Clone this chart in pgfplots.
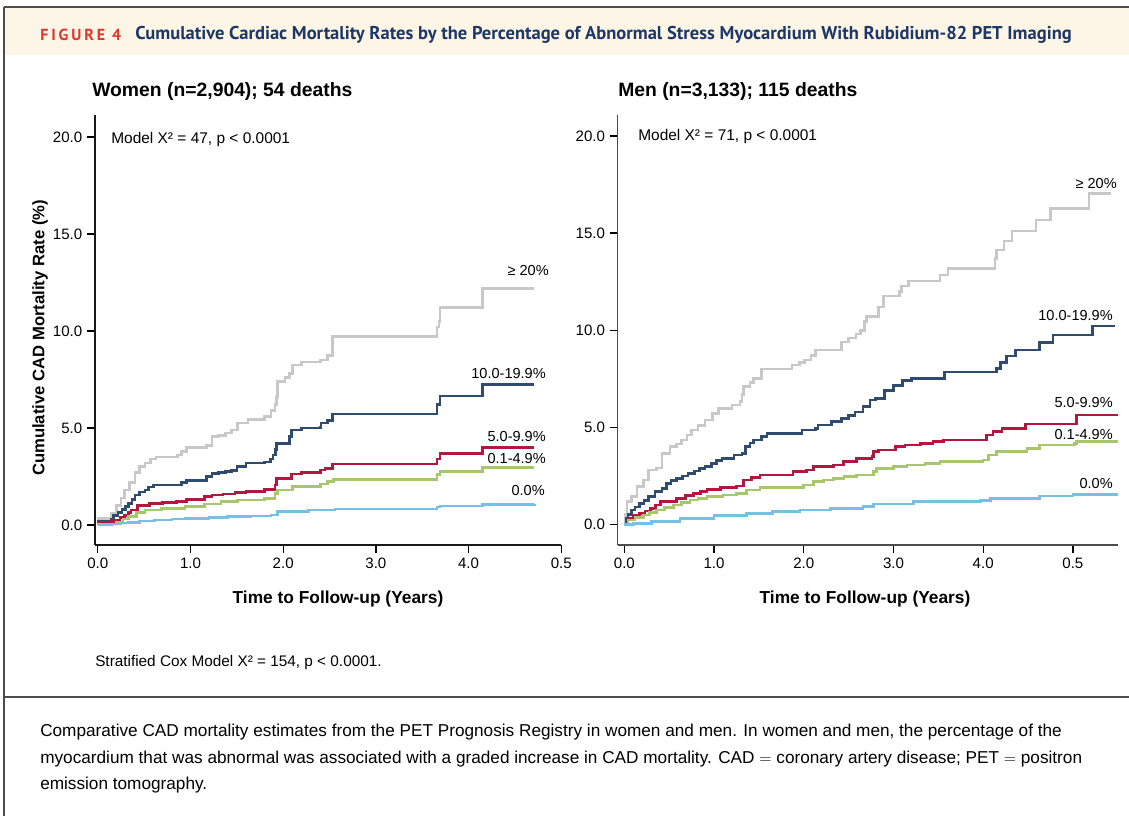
\documentclass[border=0pt]{standalone}
\usepackage{pgfplots}
\pgfplotsset{compat=1.18}
\usepackage{fontspec}
\setmainfont{Liberation Sans}
\newfontfamily\headfont{PT Sans}
\definecolor{band}{HTML}{FDF6E6}
\definecolor{figred}{HTML}{E2342D}
\definecolor{navy}{HTML}{1C3768}
\definecolor{cgray}{HTML}{C8C8CB}
\definecolor{cblue}{HTML}{2F4B6E}
\definecolor{cred}{HTML}{B3163F}
\definecolor{cgreen}{HTML}{A8C66C}
\definecolor{ccyan}{HTML}{76C0E4}

\pgfplotsset{km/.style={
  scale only axis,
  height=322.5pt,
  axis x line*=bottom, axis y line*=left,
  axis line style={black!70, line width=1pt},
  tick align=outside,
  major tick style={black, line width=1pt},
  major tick length=6pt,
  ytick={0,5,10,15,20},
  yticklabel style={/pgf/number format/.cd, fixed, fixed zerofill, precision=1, assume math mode=true},
  xtick={0,1,2,3,4,5}, xticklabels={0.0,1.0,2.0,3.0,4.0,0.5},
  tick label style={font=\fontsize{11.3}{13}\selectfont},
  every axis plot/.append style={const plot, line width=1.95pt, mark=none},
  clip=false,
}}

\begin{document}
\begin{tikzpicture}[x=0.75pt, y=0.75pt]
\path[use as bounding box, fill=white] (0,0) rectangle (1129,816);
% header band and frame
\fill[band] (5,{816-8}) rectangle (1129,{816-55});
\draw[black!70, line width=1.5pt] (4,{816-7}) -- (1129,{816-7});
\draw[black!70, line width=1.5pt] (4,{816-7}) -- (4,0);
\draw[black!70, line width=1.5pt] (4,{816-697}) -- (1129,{816-697});
\node[anchor=west, inner sep=0pt, text=figred, font=\headfont\bfseries\fontsize{12}{14}\selectfont\addfontfeatures{LetterSpace=18}] at (40,{816-35}) {FIGURE 4};
\node[anchor=west, inner sep=0pt, text=navy, font=\headfont\bfseries\fontsize{13.9}{16}\selectfont] at (135,{816-35}) {Cumulative Cardiac Mortality Rates by the Percentage of Abnormal Stress Myocardium With Rubidium-82 PET Imaging};

% ---------- Women ----------
\begin{axis}[km, at={(71.25pt,203.25pt)}, anchor=south west,
  width=349.7pt, xmin=-0.03, xmax=5.0, ymin=-1.03, ymax=21.13,
  axis line style={black!90, line width=1pt}]
\addplot[cgray] coordinates {(0,0) (0.01,0.35) (0.15,0.6) (0.2,1.0) (0.25,1.4) (0.29,1.8) (0.34,2.2) (0.4,2.7) (0.45,3.0) (0.51,3.2) (0.57,3.4) (0.63,3.5) (0.86,3.6) (0.9,3.8) (0.96,4.0) (1.17,4.1) (1.23,4.55) (1.3,4.6) (1.38,4.75) (1.44,4.9) (1.51,5.25) (1.62,5.45) (1.8,5.6) (1.87,5.9) (1.91,6.2) (1.93,6.6) (1.94,7.4) (2.02,7.6) (2.07,7.8) (2.1,8.25) (2.2,8.4) (2.4,8.5) (2.48,8.75) (2.53,9.7) (3.66,10.2) (3.68,10.5) (3.69,11.2) (4.15,12.2) (4.71,12.2)};
\addplot[cblue] coordinates {(0,0) (0.01,0.17) (0.15,0.3) (0.17,0.5) (0.22,0.65) (0.26,0.8) (0.3,0.95) (0.33,1.1) (0.37,1.3) (0.4,1.55) (0.45,1.7) (0.51,1.8) (0.55,1.95) (0.6,2.06) (0.9,2.2) (0.96,2.3) (1.17,2.5) (1.23,2.65) (1.3,2.7) (1.38,2.75) (1.44,2.8) (1.5,3.0) (1.6,3.2) (1.8,3.25) (1.86,3.4) (1.89,3.6) (1.92,3.9) (1.93,4.2) (2.07,4.55) (2.09,4.9) (2.2,5.0) (2.4,5.05) (2.41,5.25) (2.48,5.4) (2.53,5.72) (3.66,6.2) (3.69,6.65) (4.15,7.23) (4.71,7.23)};
\addplot[cred] coordinates {(0,0) (0.01,0.12) (0.15,0.18) (0.18,0.25) (0.24,0.4) (0.29,0.5) (0.33,0.65) (0.36,0.77) (0.43,1.0) (0.56,1.1) (0.7,1.15) (0.85,1.2) (0.96,1.32) (1.15,1.46) (1.23,1.55) (1.35,1.6) (1.48,1.67) (1.6,1.74) (1.8,1.84) (1.91,2.06) (1.93,2.4) (2.09,2.63) (2.2,2.7) (2.4,2.84) (2.45,2.92) (2.53,3.15) (3.66,3.4) (3.69,3.7) (4.15,3.98) (4.71,3.98)};
\addplot[cgreen] coordinates {(0,0) (0.01,0.05) (0.2,0.15) (0.27,0.3) (0.33,0.43) (0.42,0.63) (0.51,0.77) (0.69,0.86) (0.94,0.94) (1.15,1.08) (1.33,1.2) (1.51,1.29) (1.8,1.37) (1.91,1.63) (1.94,1.8) (2.1,1.98) (2.4,2.11) (2.48,2.23) (2.54,2.33) (3.66,2.6) (3.69,2.75) (4.15,2.97) (4.71,2.97)};
\addplot[ccyan] coordinates {(0,0) (0.05,0.03) (0.15,0.06) (0.25,0.1) (0.33,0.14) (0.45,0.2) (0.61,0.26) (0.8,0.3) (0.94,0.34) (1.2,0.39) (1.4,0.43) (1.65,0.47) (1.87,0.52) (1.94,0.69) (2.27,0.77) (2.56,0.83) (3.66,0.92) (3.69,0.98) (4.15,1.07) (4.71,1.1)};
\end{axis}

% ---------- Men ----------
\begin{axis}[km, at={(463.3pt,203.25pt)}, anchor=south west,
  width=375pt, xmin=-0.074, xmax=5.5, ymin=-1.055, ymax=21.08]
\addplot[cgray] coordinates {(0,0) (0.01,0.5) (0.03,1.17) (0.08,1.43) (0.14,1.95) (0.21,2.29) (0.27,2.8) (0.36,2.9) (0.42,3.66) (0.51,4.0) (0.58,4.15) (0.64,4.35) (0.7,4.6) (0.75,4.86) (0.82,5.1) (0.9,5.38) (0.98,5.7) (1.05,5.98) (1.2,6.15) (1.29,6.32) (1.31,6.7) (1.33,7.1) (1.4,7.3) (1.44,7.52) (1.53,8.0) (1.87,8.2) (1.95,8.35) (2.01,8.47) (2.08,8.7) (2.13,8.98) (2.42,9.4) (2.5,9.6) (2.58,9.8) (2.63,10.0) (2.68,10.44) (2.7,10.7) (2.83,11.2) (2.89,11.76) (3.07,11.98) (3.09,12.27) (3.17,12.53) (3.52,12.84) (3.61,13.18) (4.13,13.7) (4.15,14.13) (4.23,14.59) (4.32,15.1) (4.59,15.67) (4.75,16.27) (5.18,17.05) (5.42,17.05)};
\addplot[cblue] coordinates {(0,0) (0.02,0.3) (0.04,0.5) (0.08,0.75) (0.12,0.9) (0.17,1.09) (0.22,1.25) (0.27,1.43) (0.34,1.69) (0.42,1.86) (0.47,2.12) (0.52,2.25) (0.58,2.38) (0.65,2.5) (0.71,2.63) (0.78,2.75) (0.84,2.89) (0.9,3.0) (0.97,3.15) (1.03,3.28) (1.09,3.4) (1.22,3.58) (1.31,3.66) (1.35,4.0) (1.4,4.2) (1.44,4.35) (1.53,4.52) (1.59,4.69) (1.98,4.86) (2.13,4.95) (2.16,5.12) (2.31,5.29) (2.42,5.47) (2.5,5.6) (2.57,5.8) (2.66,6.06) (2.74,6.4) (2.8,6.5) (2.9,6.9) (3.0,7.15) (3.1,7.4) (3.2,7.5) (3.57,7.85) (4.15,8.04) (4.19,8.33) (4.26,8.67) (4.36,8.98) (4.63,9.36) (4.78,9.75) (5.22,10.22) (5.47,10.22)};
\addplot[cred] coordinates {(0,0) (0.04,0.32) (0.1,0.45) (0.17,0.58) (0.23,0.7) (0.29,0.83) (0.35,1.0) (0.4,1.17) (0.58,1.35) (0.68,1.48) (0.77,1.6) (0.85,1.7) (0.92,1.81) (1.07,1.91) (1.25,1.98) (1.33,2.29) (1.42,2.42) (1.51,2.55) (1.88,2.72) (2.03,2.8) (2.11,2.97) (2.33,3.06) (2.44,3.23) (2.59,3.4) (2.76,3.49) (2.78,3.75) (2.83,3.83) (3.02,4.0) (3.13,4.09) (3.3,4.17) (3.44,4.26) (3.56,4.35) (4.04,4.6) (4.11,4.78) (4.21,4.95) (4.47,5.17) (5.04,5.64) (5.5,5.64)};
\addplot[cgreen] coordinates {(0,0) (0.04,0.23) (0.12,0.36) (0.21,0.49) (0.28,0.62) (0.36,0.75) (0.45,0.87) (0.55,1.0) (0.64,1.13) (0.73,1.26) (0.82,1.35) (0.92,1.43) (1.1,1.52) (1.25,1.6) (1.36,1.78) (1.51,1.91) (2.0,2.03) (2.11,2.2) (2.22,2.3) (2.33,2.38) (2.45,2.46) (2.59,2.55) (2.78,2.72) (2.81,2.89) (3.0,2.97) (3.15,3.06) (3.35,3.15) (3.52,3.23) (4.0,3.32) (4.06,3.58) (4.15,3.75) (4.49,3.92) (4.63,4.09) (5.02,4.18) (5.04,4.26) (5.5,4.26)};
\addplot[ccyan] coordinates {(0,0) (0.1,0.05) (0.3,0.16) (0.62,0.32) (1.0,0.45) (1.36,0.58) (1.65,0.66) (1.96,0.75) (2.3,0.83) (2.66,0.92) (2.78,1.06) (3.22,1.17) (3.97,1.23) (4.08,1.35) (4.63,1.47) (5.0,1.55) (5.5,1.55)};
\end{axis}

% panel titles and axis labels
\node[anchor=west, inner sep=0pt, font=\bfseries\fontsize{14.5}{17}\selectfont] at (92,{816-92}) {Women (n=2,904); 54 deaths};
\node[anchor=west, inner sep=0pt, font=\bfseries\fontsize{14.5}{17}\selectfont] at (618,{816-92}) {Men (n=3,133); 115 deaths};
\node[rotate=90, inner sep=0pt, font=\bfseries\fontsize{12.5}{14}\selectfont] at (40,{816-338}) {Cumulative CAD Mortality Rate (\%)};
\node[inner sep=0pt, font=\bfseries\fontsize{13}{15}\selectfont] at (338,{816-599}) {Time to Follow-up (Years)};
\node[inner sep=0pt, font=\bfseries\fontsize{13}{15}\selectfont] at (865,{816-599}) {Time to Follow-up (Years)};
\node[anchor=west, inner sep=0pt, font=\fontsize{11.6}{13}\selectfont] at (111,{816-140}) {Model X² = 47, p < 0.0001};
\node[anchor=west, inner sep=0pt, font=\fontsize{11.6}{13}\selectfont] at (638,{816-137}) {Model X² = 71, p < 0.0001};

% curve labels
\begin{scope}[every node/.style={anchor=east, inner sep=0pt, font=\fontsize{10.9}{13}\selectfont}]
\node at (549,{816-271}) {≥ 20\%};
\node at (546,{816-374}) {10.0-19.9\%};
\node at (546,{816-437}) {5.0-9.9\%};
\node at (546,{816-459}) {0.1-4.9\%};
\node at (545,{816-491}) {0.0\%};
\node at (1117,{816-184}) {≥ 20\%};
\node at (1113,{816-316}) {10.0-19.9\%};
\node at (1113,{816-403}) {5.0-9.9\%};
\node at (1113,{816-435}) {0.1-4.9\%};
\node at (1113,{816-484}) {0.0\%};
\end{scope}

\node[anchor=west, inner sep=0pt, font=\fontsize{11.5}{13}\selectfont] at (95,{816-663}) {Stratified Cox Model X² = 154, p < 0.0001.};

% caption
\begin{scope}[every node/.style={anchor=west, inner sep=0pt, font=\fontsize{12.9}{15}\selectfont}]
\node at (40,{816-732}) {Comparative CAD mortality estimates from the PET Prognosis Registry in women and men. In women and men, the percentage of the};
\node at (40,{816-759}) {myocardium that was abnormal was associated with a graded increase in CAD mortality. CAD $=$ coronary artery disease; PET $=$ positron};
\node at (40,{816-785}) {emission tomography.};
\end{scope}
\end{tikzpicture}
\end{document}
